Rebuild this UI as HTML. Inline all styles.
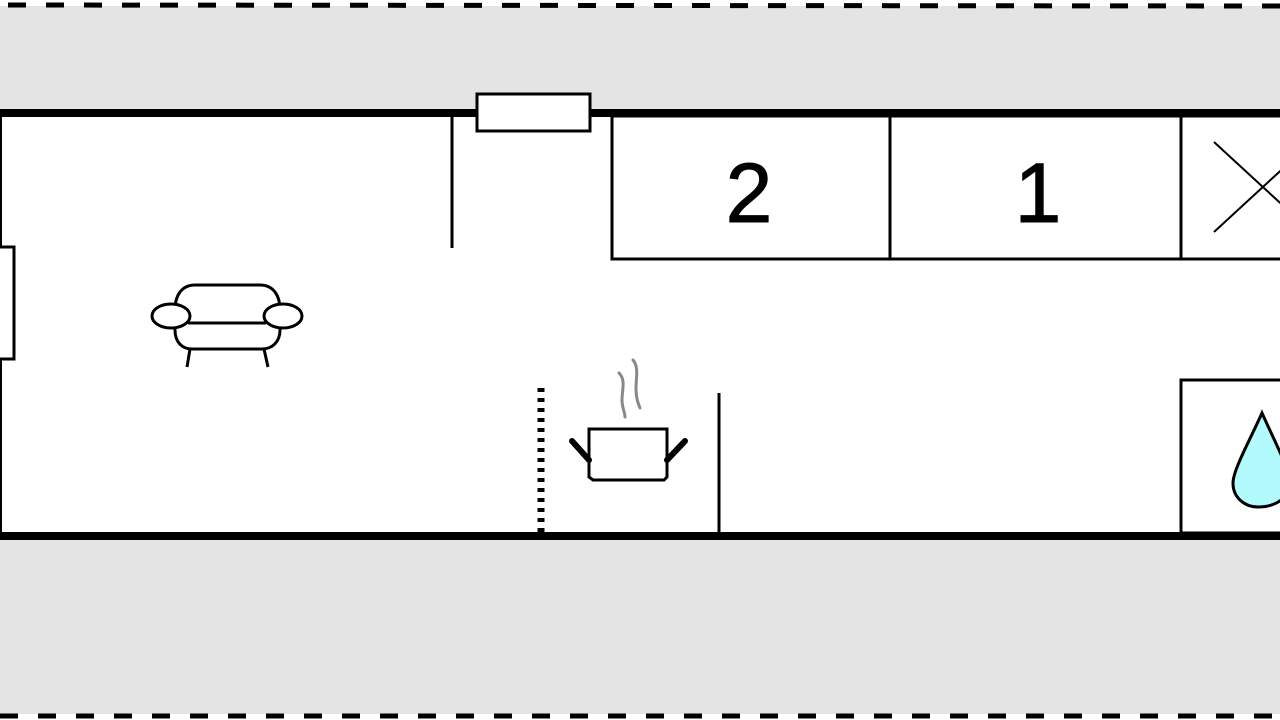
<!DOCTYPE html>
<html><head><style>html,body{margin:0;padding:0;background:#fff}svg{display:block}</style></head>
<body>
<svg width="1280" height="720" viewBox="0 0 1280 720" xmlns="http://www.w3.org/2000/svg">
<rect x="0" y="6" width="1280" height="104" fill="#e4e4e4"/>
<rect x="0" y="538" width="1280" height="176" fill="#e4e4e4"/>
<rect x="0" y="110" width="1280" height="428" fill="#fff"/>
<line x1="8" y1="5" x2="1280" y2="6" stroke="#000" stroke-width="5" stroke-dasharray="18 20"/>
<line x1="0" y1="716" x2="1280" y2="716" stroke="#000" stroke-width="5" stroke-dasharray="18 20"/>
<line x1="0" y1="113" x2="1280" y2="113" stroke="#000" stroke-width="8"/>
<line x1="0" y1="536" x2="1280" y2="536" stroke="#000" stroke-width="8"/>
<rect x="477" y="94" width="113" height="37" fill="#fff" stroke="#000" stroke-width="3"/>
<line x1="1" y1="117" x2="1" y2="532" stroke="#000" stroke-width="2"/>
<rect x="-5" y="247" width="19" height="112" fill="#fff" stroke="#000" stroke-width="3"/>
<line x1="452" y1="117" x2="452" y2="248" stroke="#000" stroke-width="3"/>
<rect x="612" y="116" width="700" height="143" fill="#fff" stroke="#000" stroke-width="3"/>
<line x1="890" y1="116" x2="890" y2="259" stroke="#000" stroke-width="3"/>
<line x1="1181" y1="116" x2="1181" y2="259" stroke="#000" stroke-width="3"/>
<text x="749" y="222" font-family="Liberation Sans, sans-serif" font-size="84" text-anchor="middle" stroke="#000" stroke-width="1">2</text>
<text x="1038" y="222" font-family="Liberation Sans, sans-serif" font-size="84" text-anchor="middle" stroke="#000" stroke-width="1">1</text>
<line x1="1214" y1="142" x2="1290" y2="212" stroke="#000" stroke-width="2"/>
<line x1="1214" y1="232" x2="1290" y2="162" stroke="#000" stroke-width="2"/>
<line x1="541" y1="388" x2="541" y2="532" stroke="#000" stroke-width="7" stroke-dasharray="4 6"/>
<line x1="719" y1="393" x2="719" y2="532" stroke="#000" stroke-width="3"/>
<rect x="1181" y="380" width="120" height="153" fill="#fff" stroke="#000" stroke-width="3"/>
<path d="M1262,413 C1250,440 1233,470 1233,483 C1233,498 1245,507 1258,507 C1275,507 1290,498 1290,483 C1290,470 1274,440 1262,413 Z" fill="#b3fafc" stroke="#000" stroke-width="3"/>
<path d="M589,429 H667 V477 L664,480 H593 L589,477 Z" fill="#fff" stroke="#000" stroke-width="3"/>
<path d="M572,441 L589,460" stroke="#000" stroke-width="6" stroke-linecap="round"/>
<path d="M685,441 L667,460" stroke="#000" stroke-width="6" stroke-linecap="round"/>
<path d="M619,373 C626,380 622,390 622,400 C622,408 625,412 625,417" fill="none" stroke="#888" stroke-width="3" stroke-linecap="round"/>
<path d="M633,360 C639,367 636,378 636,388 C636,398 638,403 640,408" fill="none" stroke="#888" stroke-width="3" stroke-linecap="round"/>
<g fill="#fff" stroke="#000" stroke-width="3">
<path d="M175,310 C175,295 182,285 195,285 H260 C273,285 280,295 280,310 V330 C280,342 272,349 262,349 H192 C182,349 175,342 175,330 Z"/>
<line x1="190" y1="349" x2="187" y2="367"/>
<line x1="264" y1="349" x2="268" y2="367"/>
<line x1="188" y1="323" x2="266" y2="323"/>
<ellipse cx="171" cy="316" rx="19" ry="12"/>
<ellipse cx="283" cy="316" rx="19" ry="12"/>
</g>
</svg>
</body></html>
